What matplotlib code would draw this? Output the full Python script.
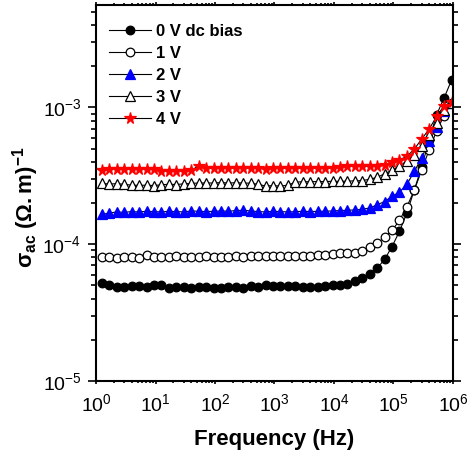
import matplotlib
matplotlib.use("Agg")
import matplotlib.pyplot as plt
from matplotlib.ticker import LogLocator, NullFormatter

plt.rcParams['font.family'] = ['Liberation Sans', 'DejaVu Sans']
plt.rcParams['mathtext.fontset'] = 'custom'
plt.rcParams['mathtext.rm'] = 'Liberation Sans'
plt.rcParams['mathtext.bf'] = 'Liberation Sans:bold'
plt.rcParams['mathtext.it'] = 'Liberation Sans:italic'

# Measurement frequencies (Hz), 8 points per decade
freq = [1.259, 1.679, 2.239, 2.985, 3.981, 5.309, 7.079, 9.441,
        12.59, 16.79, 22.39, 29.85, 39.81, 53.09, 70.79, 94.41,
        125.9, 167.9, 223.9, 298.5, 398.1, 530.9, 707.9, 944.1,
        1259, 1679, 2239, 2985, 3981, 5309, 7079, 9441,
        12590, 16790, 22390, 29850, 39810, 53090, 70790, 94410,
        125900, 167900, 223900, 298500, 398100, 530900, 707900, 944100]

# AC conductivity (S/m) for each dc bias
sigma_0V = [5.18e-5, 5.03e-5, 4.90e-5, 4.85e-5, 4.98e-5, 4.95e-5, 4.90e-5, 5.03e-5,
            5.01e-5, 4.76e-5, 4.85e-5, 4.85e-5, 4.79e-5, 4.85e-5, 4.85e-5, 4.82e-5,
            4.82e-5, 4.85e-5, 4.85e-5, 4.82e-5, 4.98e-5, 4.90e-5, 5.03e-5, 4.98e-5,
            4.98e-5, 4.93e-5, 4.95e-5, 4.85e-5, 4.85e-5, 4.87e-5, 4.95e-5, 5.04e-5,
            5.02e-5, 5.09e-5, 5.36e-5, 5.63e-5, 6.06e-5, 6.67e-5, 7.74e-5, 9.60e-5,
            1.24e-4, 1.69e-4, 2.50e-4, 3.68e-4, 5.81e-4, 8.85e-4, 1.17e-3, 1.58e-3]

sigma_1V = [8.03e-5, 8.00e-5, 7.98e-5, 8.00e-5, 8.02e-5, 7.98e-5, 8.36e-5, 8.12e-5,
            8.08e-5, 8.12e-5, 8.15e-5, 8.12e-5, 8.08e-5, 8.12e-5, 8.15e-5, 8.12e-5,
            8.10e-5, 8.12e-5, 8.15e-5, 8.12e-5, 8.15e-5, 8.18e-5, 8.15e-5, 8.18e-5,
            8.20e-5, 8.18e-5, 8.22e-5, 8.20e-5, 8.25e-5, 8.28e-5, 8.32e-5, 8.45e-5,
            8.59e-5, 8.62e-5, 8.69e-5, 8.94e-5, 9.51e-5, 1.02e-4, 1.12e-4, 1.26e-4,
            1.49e-4, 1.88e-4, 2.48e-4, 3.50e-4, 4.90e-4, 6.75e-4, 8.69e-4, 1.08e-3]

sigma_2V = [1.65e-4, 1.69e-4, 1.72e-4, 1.71e-4, 1.73e-4, 1.72e-4, 1.74e-4, 1.73e-4,
            1.72e-4, 1.74e-4, 1.73e-4, 1.72e-4, 1.75e-4, 1.74e-4, 1.73e-4, 1.74e-4,
            1.75e-4, 1.74e-4, 1.76e-4, 1.77e-4, 1.75e-4, 1.73e-4, 1.72e-4, 1.74e-4,
            1.73e-4, 1.72e-4, 1.73e-4, 1.74e-4, 1.73e-4, 1.74e-4, 1.74e-4, 1.75e-4,
            1.76e-4, 1.77e-4, 1.78e-4, 1.80e-4, 1.84e-4, 1.94e-4, 2.05e-4, 2.24e-4,
            2.40e-4, 2.74e-4, 3.40e-4, 4.30e-4, 5.64e-4, 7.19e-4, 9.35e-4, 1.08e-3]

sigma_3V = [2.78e-4, 2.75e-4, 2.77e-4, 2.74e-4, 2.70e-4, 2.69e-4, 2.70e-4, 2.68e-4,
            2.72e-4, 2.74e-4, 2.73e-4, 2.76e-4, 2.78e-4, 2.80e-4, 2.80e-4, 2.80e-4,
            2.82e-4, 2.80e-4, 2.81e-4, 2.80e-4, 2.79e-4, 2.74e-4, 2.66e-4, 2.68e-4,
            2.66e-4, 2.70e-4, 2.84e-4, 2.86e-4, 2.86e-4, 2.87e-4, 2.87e-4, 2.88e-4,
            2.88e-4, 2.89e-4, 2.90e-4, 2.92e-4, 2.98e-4, 3.08e-4, 3.27e-4, 3.47e-4,
            3.71e-4, 4.07e-4, 4.51e-4, 5.25e-4, 6.31e-4, 7.73e-4, 9.55e-4, 1.08e-3]

sigma_4V = [3.46e-4, 3.52e-4, 3.55e-4, 3.54e-4, 3.53e-4, 3.55e-4, 3.54e-4, 3.52e-4,
            3.44e-4, 3.42e-4, 3.45e-4, 3.43e-4, 3.46e-4, 3.74e-4, 3.60e-4, 3.58e-4,
            3.59e-4, 3.60e-4, 3.58e-4, 3.59e-4, 3.60e-4, 3.58e-4, 3.57e-4, 3.58e-4,
            3.59e-4, 3.58e-4, 3.60e-4, 3.59e-4, 3.60e-4, 3.61e-4, 3.60e-4, 3.60e-4,
            3.66e-4, 3.70e-4, 3.70e-4, 3.70e-4, 3.72e-4, 3.74e-4, 3.81e-4, 3.96e-4,
            4.14e-4, 4.38e-4, 4.96e-4, 5.87e-4, 6.95e-4, 8.59e-4, 1.03e-3, 1.09e-3]

labels = ['0 V dc bias', '1 V', '2 V', '3 V', '4 V']

fig = plt.figure(figsize=(4.68, 4.57), dpi=100)
ax = fig.add_axes([96/468, 1 - 381/457, 357/468, 376/457])

styles = [
    dict(marker='o', mfc='black', mec='black', ms=6.2),
    dict(marker='o', mfc='white', mec='black', ms=6.2),
    dict(marker='^', mfc='blue', mec='blue', ms=6.8),
    dict(marker='^', mfc='white', mec='black', ms=6.8),
    dict(marker='*', mfc='red', mec='red', ms=8.5),
]
series = [sigma_0V, sigma_1V, sigma_2V, sigma_3V, sigma_4V]
for vals, st, lab in zip(series, styles, labels):
    ax.plot(freq, vals, color='black', lw=0.8, mew=0.9, label=lab, **st)

ax.set_xscale('log')
ax.set_yscale('log')
ax.set_xlim(1, 1e6)
ax.set_ylim(1e-5, 5.6e-3)

ax.xaxis.set_major_locator(LogLocator(base=10, numticks=10))
ax.yaxis.set_major_locator(LogLocator(base=10, numticks=10))
ax.xaxis.set_minor_locator(LogLocator(base=10, subs=range(2, 10), numticks=20))
ax.yaxis.set_minor_locator(LogLocator(base=10, subs=range(2, 10), numticks=20))
ax.xaxis.set_minor_formatter(NullFormatter())
ax.yaxis.set_minor_formatter(NullFormatter())

for s in ax.spines.values():
    s.set_linewidth(1.5)

ax.tick_params(axis='both', which='both', direction='out', top=True, right=True,
               labeltop=False, labelright=False, width=1.2)
ax.tick_params(axis='y', which='major', length=5.5, labelsize=14, pad=5)
ax.tick_params(axis='y', which='minor', length=3.5)
ax.tick_params(axis='x', which='major', length=2, labelsize=14, pad=7)
ax.tick_params(axis='x', which='minor', length=1.5)

ax.set_xlabel('Frequency (Hz)', fontsize=16, fontweight='bold', labelpad=10)
fig.text(26/468, 1 - 207/457, r'$\mathbf{\sigma_{ac}}$ $\mathbf{(\Omega.m)^{-1}}$',
         rotation=90, ha='center', va='center', fontsize=16)

leg = ax.legend(loc='upper left', bbox_to_anchor=(0.036, 0.95), frameon=False,
                borderaxespad=0, borderpad=0, numpoints=1, handlelength=2.5,
                handletextpad=0.35, labelspacing=0.42,
                prop={'weight': 'bold', 'size': 12})

fig.savefig('out.png', dpi=100)
